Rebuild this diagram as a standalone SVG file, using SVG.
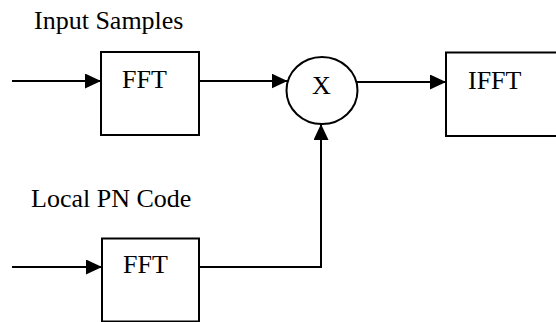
<svg xmlns="http://www.w3.org/2000/svg" width="556" height="322" viewBox="0 0 556 322">
<style>
.box{fill:#fff;stroke:#000;stroke-width:2}
.lbl{font-family:"Liberation Serif","Times New Roman",serif;font-size:26px;fill:#000}
.wire{fill:none;stroke:#000;stroke-width:2}
</style>
<defs>
<marker id="arr" markerUnits="userSpaceOnUse" markerWidth="16" markerHeight="15" refX="16" refY="7.5" orient="auto">
<path d="M0,0 L16,7.5 L0,15 z" fill="#000"/>
</marker>
</defs>
<rect width="556" height="322" fill="#fff"/>
<text class="lbl" x="34" y="29">Input Samples</text>
<text class="lbl" x="31" y="207">Local PN Code</text>
<g id="connectors">
<path class="wire" d="M12,81 H101" marker-end="url(#arr)"/>
<path class="wire" d="M199,81 H287.5" marker-end="url(#arr)"/>
<path class="wire" d="M356.5,82 H446" marker-end="url(#arr)"/>
<path class="wire" d="M12,267 H102" marker-end="url(#arr)"/>
<path class="wire" d="M199,267 H321 V124" marker-end="url(#arr)"/>
</g>
<g id="fft1">
<rect class="box" x="101" y="52" width="98" height="83"/>
<text class="lbl" x="122" y="87.5">FFT</text>
</g>
<g id="mult">
<ellipse class="box" cx="322" cy="90.5" rx="35.5" ry="33.5"/>
<text class="lbl" x="312" y="94">X</text>
</g>
<g id="ifft">
<rect class="box" x="446" y="52.5" width="112" height="83.5"/>
<text class="lbl" x="468" y="88.5">IFFT</text>
</g>
<g id="fft2">
<rect class="box" x="102" y="238.5" width="97" height="83"/>
<text class="lbl" x="123" y="273">FFT</text>
</g>
</svg>
